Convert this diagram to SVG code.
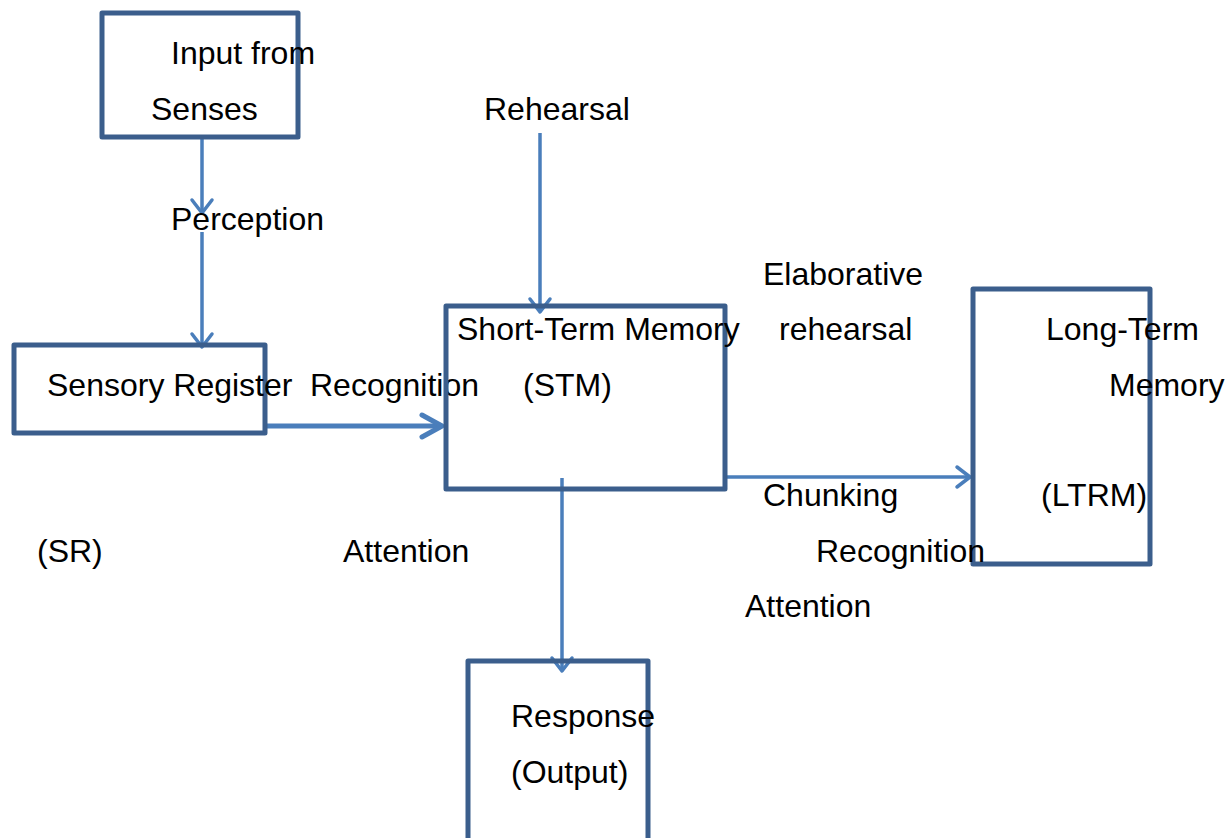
<svg xmlns="http://www.w3.org/2000/svg" width="1231" height="838" viewBox="0 0 1231 838">
<style>
.box{fill:none;stroke:#3B5E8C;stroke-width:5;stroke-linejoin:round}
.ln{fill:none;stroke:#4A7EBB;stroke-width:3.5}
.thick{stroke-width:5}
text{font-family:"Liberation Sans",Arial,sans-serif;font-size:32px;fill:#000}
</style>
<defs>
<marker id="ah" markerUnits="userSpaceOnUse" viewBox="-20 -20 40 40" markerWidth="40" markerHeight="40" refX="0" refY="0" orient="auto" overflow="visible">
<path d="M -13 -10 L 0 0 L -13 10" fill="none" stroke="#4A7EBB" stroke-width="3.5" stroke-linecap="round" stroke-linejoin="round"/>
</marker>
<marker id="ahb" markerUnits="userSpaceOnUse" viewBox="-20 -20 40 40" markerWidth="40" markerHeight="40" refX="0" refY="0" orient="auto" overflow="visible">
<path d="M -20 -11 L 0 0 L -20 11" fill="none" stroke="#4A7EBB" stroke-width="5" stroke-linecap="round" stroke-linejoin="round"/>
</marker>
</defs>
<rect width="1231" height="838" fill="#fff"/>
<g id="connectors">
<line class="ln" x1="202" y1="138" x2="202" y2="213" marker-end="url(#ah)"/>
<line class="ln" x1="202" y1="232" x2="202" y2="347" marker-end="url(#ah)"/>
<line class="ln" x1="540" y1="133" x2="540" y2="312" marker-end="url(#ah)"/>
<line class="ln thick" x1="266" y1="426" x2="442" y2="426" marker-end="url(#ahb)"/>
<line class="ln" x1="562" y1="478" x2="562" y2="671" marker-end="url(#ah)"/>
<line class="ln" x1="725" y1="477" x2="970" y2="477" marker-end="url(#ah)"/>
</g>
<g id="input">
<rect class="box" x="102" y="13" width="196" height="124"/>
<text x="171" y="64">Input from</text>
<text x="151" y="120">Senses</text>
</g>
<g id="perception-label"><text x="171" y="230">Perception</text></g>
<g id="rehearsal-label"><text x="484" y="120">Rehearsal</text></g>
<g id="sensory-register">
<rect class="box" x="14" y="345" width="251" height="88"/>
<text x="47" y="396">Sensory Register</text>
<text x="37" y="562">(SR)</text>
</g>
<g id="recognition-label"><text x="310" y="396">Recognition</text></g>
<g id="attention-label1"><text x="343" y="562">Attention</text></g>
<g id="stm">
<rect class="box" x="446" y="306" width="279" height="183"/>
<text x="457" y="340">Short-Term Memory</text>
<text x="523" y="396">(STM)</text>
</g>
<g id="elaborative-label">
<text x="763" y="285">Elaborative</text>
<text x="779" y="340">rehearsal</text>
</g>
<g id="ltrm">
<rect class="box" x="973" y="289" width="177" height="275"/>
<text x="1046" y="340">Long-Term</text>
<text x="1109" y="396">Memory</text>
<text x="1041" y="506">(LTRM)</text>
</g>
<g id="chunking-label">
<text x="763" y="506">Chunking</text>
<text x="816" y="562">Recognition</text>
<text x="745" y="617">Attention</text>
</g>
<g id="response">
<rect class="box" x="468" y="661" width="180" height="200"/>
<text x="511" y="727">Response</text>
<text x="511" y="783">(Output)</text>
</g>
</svg>
